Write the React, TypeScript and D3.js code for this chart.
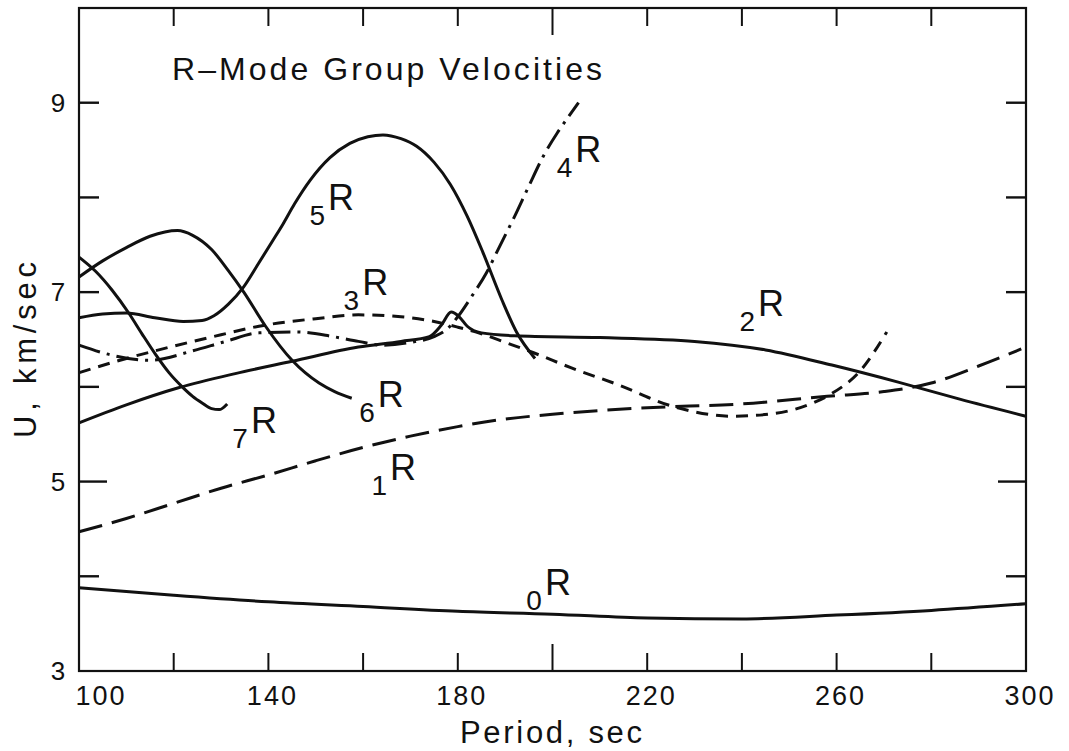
import React from "react";
import * as d3 from "d3";

// Rayleigh-mode group velocity U (km/sec) against period (sec), one array per overtone.
const mode0R: [number, number][] = [
  [100, 3.88], [120, 3.8], [140, 3.73], [160, 3.68], [180, 3.63], [200, 3.6],
  [220, 3.56], [240, 3.55], [260, 3.59], [280, 3.64], [300, 3.71],
];
const mode1R: [number, number][] = [
  [100, 4.47], [110, 4.61], [120, 4.77], [130, 4.93], [140, 5.07], [150, 5.22],
  [160, 5.36], [170, 5.48], [180, 5.58], [190, 5.66], [200, 5.71], [210, 5.75],
  [220, 5.78], [240, 5.82], [258, 5.9], [270, 5.95], [280, 6.04], [290, 6.22], [299, 6.4],
];
const mode2R: [number, number][] = [
  [100, 5.62], [110, 5.81], [121, 5.99], [133, 6.14], [145, 6.27], [159, 6.42],
  [168, 6.48], [174, 6.53], [176.5, 6.65], [178.6, 6.79], [180.3, 6.74], [182, 6.64],
  [185, 6.57], [192, 6.54], [210, 6.52], [230, 6.48], [245, 6.39], [259, 6.23],
  [273, 6.05], [286, 5.87], [300, 5.69],
];
const mode3R: [number, number][] = [
  [100, 6.15], [110, 6.3], [120, 6.43], [130, 6.55], [138, 6.64], [150, 6.72],
  [159, 6.76], [168, 6.74], [175, 6.69], [180, 6.63], [185, 6.56], [190, 6.47],
  [196, 6.36], [204, 6.2], [214, 6.02], [225, 5.8], [238, 5.69], [247, 5.72],
  [255, 5.83], [259, 5.93], [265, 6.17], [270.6, 6.58],
];
const mode4R: [number, number][] = [
  [100, 6.44], [106.5, 6.34], [115, 6.28], [124, 6.38], [131, 6.48], [138, 6.57],
  [146, 6.58], [153.7, 6.53], [159, 6.48], [164, 6.44], [170, 6.47], [175, 6.53],
  [177.5, 6.6], [180, 6.74], [183, 6.96], [186, 7.2], [189, 7.5], [192, 7.8],
  [195, 8.12], [198, 8.43], [201, 8.68], [203.5, 8.86], [205.5, 9.0],
];
const mode5R: [number, number][] = [
  [100, 6.73], [105, 6.77], [110, 6.78], [116, 6.73], [122, 6.69], [126, 6.7],
  [128.5, 6.75], [131.5, 6.87], [134.7, 7.05], [138, 7.31], [141, 7.55], [143.1, 7.72],
  [145.5, 7.93], [148.8, 8.18], [153, 8.42], [157.2, 8.57], [161, 8.64], [164.2, 8.66],
  [168, 8.62], [171.3, 8.54], [175, 8.37], [178.4, 8.14], [182, 7.8], [185.3, 7.42],
  [189.3, 6.92], [192.4, 6.58], [196.3, 6.3],
];
const mode6R: [number, number][] = [
  [100, 7.16], [105, 7.33], [110, 7.47], [115, 7.59], [120.8, 7.65], [124, 7.6],
  [128, 7.45], [131.5, 7.23], [134.8, 7.0], [139.4, 6.64], [145, 6.28], [150.7, 6.04],
  [154, 5.95], [157.6, 5.88],
];
const mode7R: [number, number][] = [
  [100, 7.37], [103.5, 7.22], [107, 7.02], [110.5, 6.78], [113.3, 6.56], [116.2, 6.34],
  [119, 6.15], [121.8, 6.0], [124, 5.9], [126, 5.83], [128, 5.77], [129.6, 5.76], [131.3, 5.82],
];

// Overtone number, dash style and where its "nR" label sits (period, U of the R baseline).
const modeNumbers = [0, 1, 2, 3, 4, 5, 6, 7];
const modeSeries = [mode0R, mode1R, mode2R, mode3R, mode4R, mode5R, mode6R, mode7R];
const modeDash = ["", "24 10", "", "12 8", "22 7 3 7", "", "", ""];
const labelPeriod = [198.4, 165.7, 243.4, 159.8, 204.8, 152.6, 163.1, 136.3];
const labelU = [3.8, 5.02, 6.75, 6.97, 8.37, 7.87, 5.79, 5.51];

const xTicks = [120, 140, 160, 180, 200, 220, 240, 260, 280];
const xTickLabels = [100, 140, 180, 220, 260, 300];
const yTicks = [4, 5, 6, 7, 8, 9];
const yTickLabels = [3, 5, 7, 9];

const W = 1069;
const H = 751;
const FONT = "'Liberation Sans', Arial, sans-serif";

export default function App() {
  const x = d3.scaleLinear().domain([100, 300]).range([79, 1026]);
  const y = d3.scaleLinear().domain([3, 10]).range([671, 8]);
  const line = d3
    .line<[number, number]>()
    .x((d) => x(d[0]))
    .y((d) => y(d[1]))
    .curve(d3.curveMonotoneX);

  const [x0, x1] = x.range();
  const [yb, yt] = y.range();

  return (
    <svg
      width={W}
      height={H}
      style={{ position: "absolute", left: 0, top: 0, background: "#fff" }}
      fontFamily={FONT}
    >
      <rect x={0} y={0} width={W} height={H} fill="#fff" />

      {/* curves */}
      {modeSeries.map((s, i) => (
        <path
          key={"m" + i}
          d={line(s) ?? ""}
          fill="none"
          stroke="#111"
          strokeWidth={3}
          strokeDasharray={modeDash[i] || undefined}
          strokeLinecap="butt"
          strokeLinejoin="round"
        />
      ))}

      {/* frame */}
      <rect x={x0} y={yt} width={x1 - x0} height={yb - yt} fill="none" stroke="#111" strokeWidth={2.2} />

      {/* x ticks, bottom and top */}
      {xTicks.map((t) => {
        const len = t === 200 ? 27 : 18;
        return (
          <g key={"xt" + t} stroke="#111" strokeWidth={2}>
            <line x1={x(t)} x2={x(t)} y1={yb} y2={yb - len} />
            <line x1={x(t)} x2={x(t)} y1={yt} y2={yt + len} />
          </g>
        );
      })}
      {/* y ticks, left and right */}
      {yTicks.map((t) => {
        const len = t === 5 ? 28 : 20;
        return (
          <g key={"yt" + t} stroke="#111" strokeWidth={2.4}>
            <line x1={x0} x2={x0 + len} y1={y(t)} y2={y(t)} />
            <line x1={x1} x2={x1 - len} y1={y(t)} y2={y(t)} />
          </g>
        );
      })}

      {/* tick labels */}
      {xTickLabels.map((t) => (
        <text
          key={"xl" + t}
          x={t === 100 ? x(t) + 22 : x(t) + 4}
          y={705}
          fontSize={27}
          textAnchor="middle"
          letterSpacing={2}
          fill="#111"
        >
          {t}
        </text>
      ))}
      {yTickLabels.map((t) => (
        <text
          key={"yl" + t}
          x={58}
          y={y(t) + 9}
          fontSize={26}
          textAnchor="middle"
          fill="#111"
        >
          {t}
        </text>
      ))}

      {/* axis titles */}
      <text x={460} y={743} fontSize={31} textLength={182} lengthAdjust="spacing" fill="#111">
        Period, sec
      </text>
      <text
        transform={`translate(36, 438) rotate(-90)`}
        fontSize={31}
        textLength={176}
        lengthAdjust="spacing"
        fill="#111"
      >
        U, km/sec
      </text>

      {/* title */}
      <text x={172} y={80} fontSize={32} textLength={430} lengthAdjust="spacing" fill="#111">
        R–Mode  Group  Velocities
      </text>

      {/* mode labels */}
      {modeNumbers.map((n, i) => {
        const lx = x(labelPeriod[i]);
        const ly = y(labelU[i]);
        return (
          <g key={"lab" + n} fill="#111">
            <text x={lx - 3} y={ly + 15} fontSize={28} textAnchor="end">
              {n}
            </text>
            <text x={lx} y={ly} fontSize={36}>
              R
            </text>
          </g>
        );
      })}
    </svg>
  );
}
